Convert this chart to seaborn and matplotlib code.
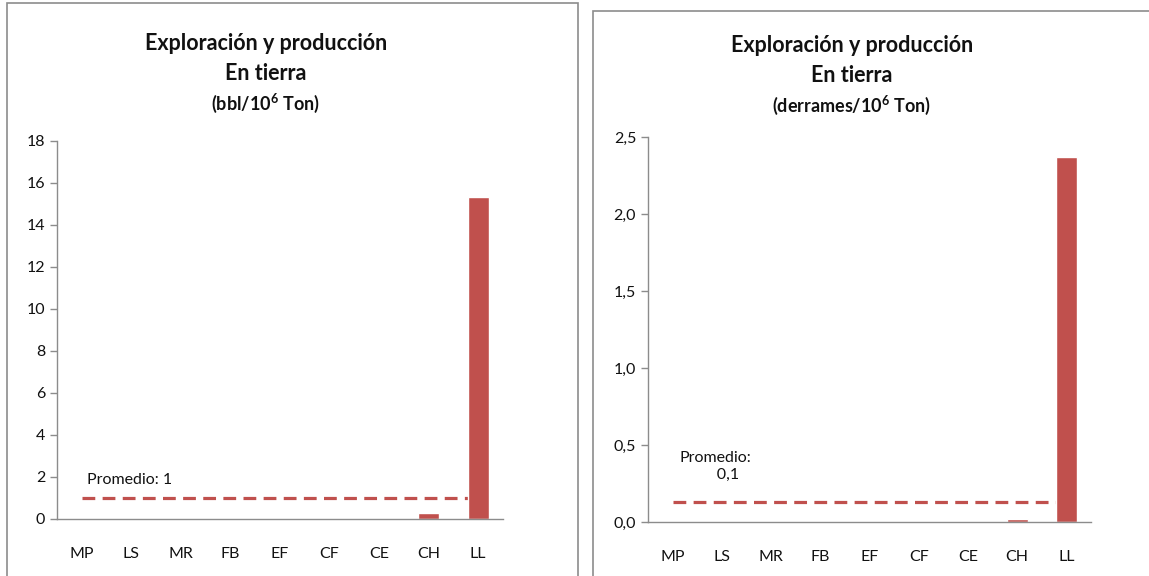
import numpy as np
import pandas as pd
import matplotlib
matplotlib.use("Agg")
import matplotlib.pyplot as plt
from matplotlib.patches import Rectangle
from matplotlib.ticker import FuncFormatter
import seaborn as sns

# Datos
categorias = ['MP', 'LS', 'MR', 'FB', 'EF', 'CF', 'CE', 'CH', 'LL']
bbl_por_ton = [0, 0, 0, 0, 0, 0, 0, 0.3, 15.35]
derrames_por_ton = [0, 0, 0, 0, 0, 0, 0, 0.02, 2.37]
promedio_bbl = 1.0
promedio_derrames = 0.13

rojo = '#C0504D'
gris = '#8C8C8C'

sns.set_theme(style="white")
plt.rcParams['font.family'] = ['Lato', 'DejaVu Sans']
plt.rcParams['mathtext.fontset'] = 'custom'
plt.rcParams['mathtext.rm'] = 'Lato'
plt.rcParams['mathtext.bf'] = 'Lato:bold'
plt.rcParams['text.color'] = '#111111'
plt.rcParams['xtick.color'] = '#111111'
plt.rcParams['ytick.color'] = '#111111'

fig = plt.figure(figsize=(11.49, 5.76), dpi=100)

# marcos de los dos paneles
fig.patches.append(Rectangle((7 / 1149, -0.05), 571 / 1149, 1.05 - 3 / 576,
                             transform=fig.transFigure, fill=False, edgecolor=gris, lw=1.2))
fig.patches.append(Rectangle((593 / 1149, -0.05), 0.6, 1.05 - 11 / 576,
                             transform=fig.transFigure, fill=False, edgecolor=gris, lw=1.2))


def dibujar(pos, valores, promedio, ymax, paso, fmt, titulo3, cx, ty, texto_prom, prom_xy):
    ax = fig.add_axes(pos)
    df = pd.DataFrame({'cat': categorias, 'valor': valores})
    ax.plot([0, 8], [promedio, promedio], color=rojo, lw=2.3, ls=(0, (4, 2.3)), zorder=1)
    sns.barplot(data=df, x='cat', y='valor', color=rojo, width=0.42, ax=ax,
                saturation=1, zorder=2)
    ax.set_xlim(-0.5, 8.5)
    ax.set_ylim(0, ymax)
    ax.set_yticks(np.arange(0, ymax + paso / 2, paso))
    ax.yaxis.set_major_formatter(FuncFormatter(fmt))
    ax.set_xticks(np.arange(-0.5, 9, 1))
    ax.set_xticklabels([])
    ax.set_xticks(np.arange(9), minor=True)
    ax.set_xticklabels(categorias, minor=True)
    ax.tick_params(axis='x', which='major', direction='out', length=6, color=gris, width=1)
    ax.tick_params(axis='x', which='minor', length=0, pad=20, labelsize=11.5)
    ax.tick_params(axis='y', direction='out', length=5, color=gris, width=1,
                   labelsize=11.5, left=True)
    ax.set_xlabel('')
    ax.set_ylabel('')
    for s in ['top', 'right']:
        ax.spines[s].set_visible(False)
    for s in ['left', 'bottom']:
        ax.spines[s].set_color(gris)
        ax.spines[s].set_linewidth(1)
    fig.text(cx, ty[0], 'Exploración y producción', ha='center', va='center',
             fontsize=15.5, fontweight='bold')
    fig.text(cx, ty[1], 'En tierra', ha='center', va='center',
             fontsize=15.5, fontweight='bold')
    fig.text(cx, ty[2], titulo3, ha='center', va='center',
             fontsize=13, fontweight='bold')
    ax.text(prom_xy[0], prom_xy[1], texto_prom, ha='left', va='center',
            fontsize=11.5, transform=ax.transData, multialignment='center')
    return ax


dibujar([57 / 1149, 1 - 519 / 576, 446 / 1149, 378 / 576],
        bbl_por_ton, promedio_bbl, 18, 2, lambda v, p: f'{v:.0f}',
        r'(bbl/10$^{\mathbf{6}}$ Ton)', 266 / 1149,
        [1 - 44 / 576, 1 - 74 / 576, 1 - 103 / 576],
        'Promedio: 1', (0.1, 1.85))

dibujar([648 / 1149, 1 - 522 / 576, 443 / 1149, 385 / 576],
        derrames_por_ton, promedio_derrames, 2.5, 0.5,
        lambda v, p: f'{v:.1f}'.replace('.', ','),
        r'(derrames/10$^{\mathbf{6}}$ Ton)', 852 / 1149,
        [1 - 45 / 576, 1 - 75 / 576, 1 - 105 / 576],
        'Promedio:\n      0,1', (0.15, 0.36))

fig.savefig('out.png', dpi=100)
